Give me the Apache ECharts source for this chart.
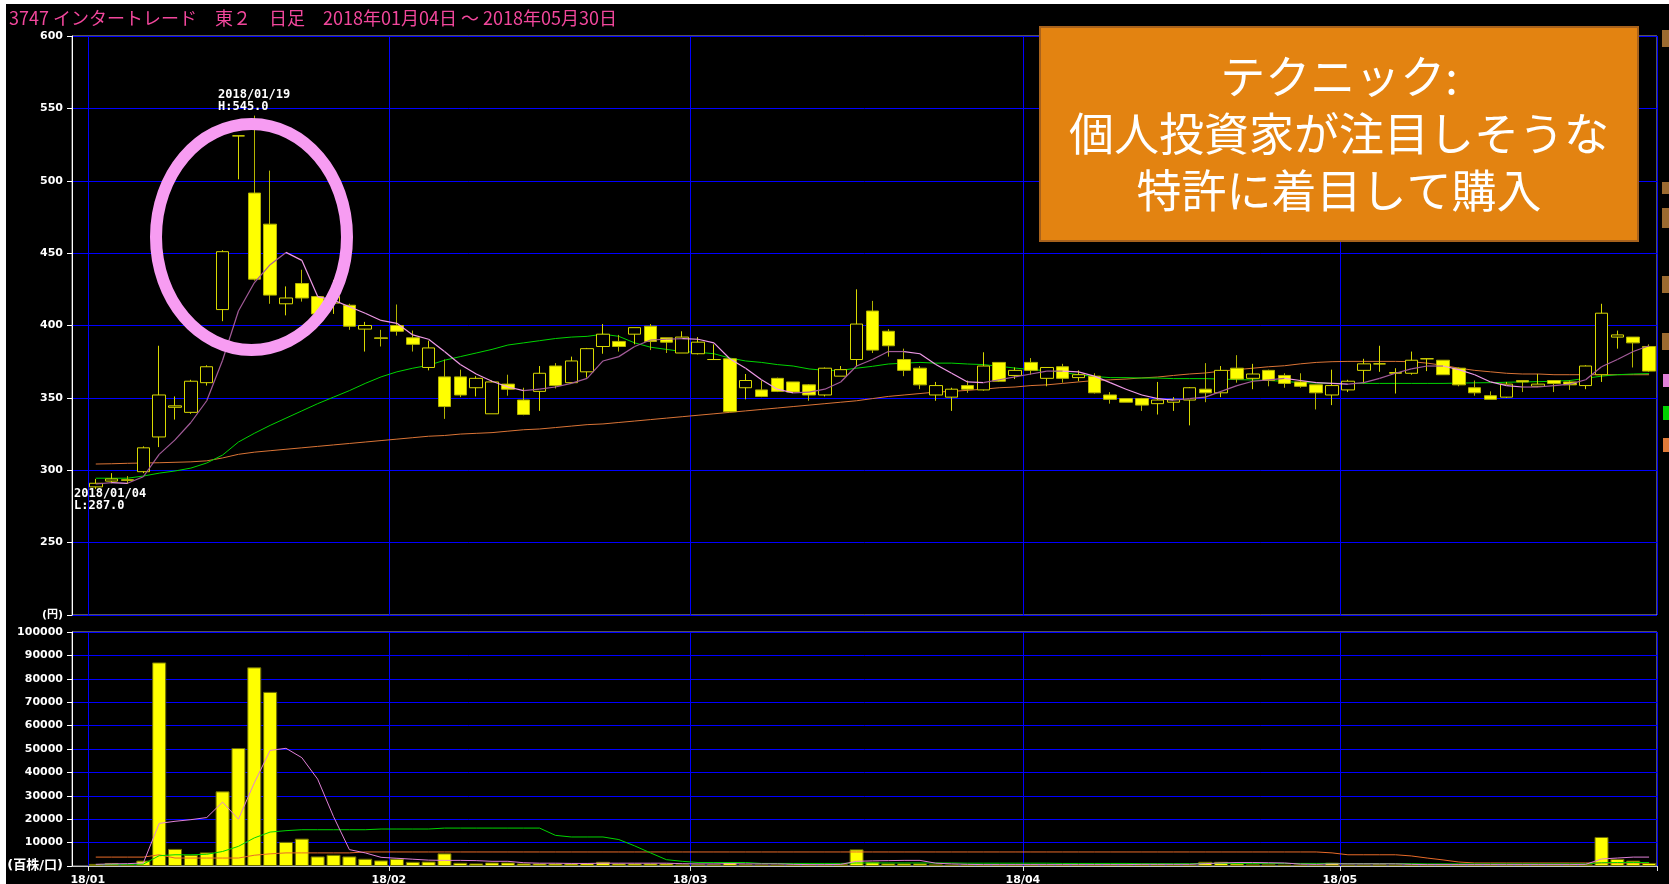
<!DOCTYPE html>
<html><head><meta charset="utf-8">
<script src="https://cdn.jsdelivr.net/npm/echarts/dist/echarts.min.js"></script>
<style>html,body{margin:0;padding:0;background:#fff;overflow:hidden}#c{width:1669px;height:884px}</style>
</head><body><div id="c"></div>
<script>
// ---- data ----
const dates = [
'2018/01/04','2018/01/05','2018/01/09','2018/01/10','2018/01/11','2018/01/12','2018/01/15','2018/01/16','2018/01/17','2018/01/18',
'2018/01/19','2018/01/22','2018/01/23','2018/01/24','2018/01/25','2018/01/26','2018/01/29','2018/01/30','2018/01/31',
'2018/02/01','2018/02/02','2018/02/05','2018/02/06','2018/02/07','2018/02/08','2018/02/09','2018/02/13','2018/02/14','2018/02/15',
'2018/02/16','2018/02/19','2018/02/20','2018/02/21','2018/02/22','2018/02/23','2018/02/26','2018/02/27','2018/02/28',
'2018/03/01','2018/03/02','2018/03/05','2018/03/06','2018/03/07','2018/03/08','2018/03/09','2018/03/12','2018/03/13','2018/03/14',
'2018/03/15','2018/03/16','2018/03/19','2018/03/20','2018/03/22','2018/03/23','2018/03/26','2018/03/27','2018/03/28','2018/03/29','2018/03/30',
'2018/04/02','2018/04/03','2018/04/04','2018/04/05','2018/04/06','2018/04/09','2018/04/10','2018/04/11','2018/04/12','2018/04/13',
'2018/04/16','2018/04/17','2018/04/18','2018/04/19','2018/04/20','2018/04/23','2018/04/24','2018/04/25','2018/04/26','2018/04/27',
'2018/05/01','2018/05/02','2018/05/07','2018/05/08','2018/05/09','2018/05/10','2018/05/11','2018/05/14','2018/05/15','2018/05/16',
'2018/05/17','2018/05/18','2018/05/21','2018/05/22','2018/05/23','2018/05/24','2018/05/25','2018/05/28','2018/05/29','2018/05/30'];

const opens = [
288.5,292.5,293.5,299,323,343.5,340,360.5,411,531,
491.5,470,415,429,420,415.5,414,397.5,391.5,400,
391.5,371,364.5,364.5,357,339,359.5,348.5,354.5,372,
360.5,368,385.5,389,394,399.5,391.5,381,380.5,376.5,
377,357,355.5,363.5,361,359,352,365,376.5,410,
396,376.5,370.5,352,350.5,358.5,355.5,374.5,365.5,374.5,
363.5,371.5,364,365,352,349.5,349.5,346,347,348.5,
356,353.5,370.5,363.5,369,365.5,361,359,352,355.5,
369,373.5,367,367,377,376,370.5,357,351.5,350.5,
362,358,362,361,358.5,366,392,392,385.5];
const closes = [
291,294,293,315.5,352,344.5,361.5,371.5,451,531,
432,421,419,419,408,420,399.5,400,391,396,
387,384.5,344,352,363.5,361,356,338.5,367,358.5,
375.5,384,394,385.5,398.5,389,388.5,392,388.5,376.5,
340.5,362,351,354.5,354,352,370.5,369.5,401,383,
386,369,359,358.5,356,356,372,361.5,369,369,
371,363.5,366,353.5,349,347,345,348.5,349,357,
353.5,369,363,366.5,362,360,358,353.5,358.5,361.5,
373.5,373.5,367.5,376,377,366,359,353.5,349,359.5,
361,359.5,360,359,372,408.5,393.5,388,368.5];
const lows = [
287,291,290.5,298,316,335,339,358.5,403,501,
431,415,407,416.5,408,408,397,382,385.5,393,
382,369,335.5,350.5,351,339,351.5,338,341,356.5,
360,364,380.5,382,387,383,381,381,380,376.5,
340.5,349,350.5,354,353.5,348,351,365,372,381,
378.5,365,356,348,341,353.5,355,361,363,366,
358,360.5,361.5,353,346,347,341,338.5,341,331,
347,350.5,360.5,356,358,357,357,342,345,354,
360,368,353,366,368.5,366,358,351.5,349,350,
354,357.5,354,355.5,356,361,384,371,368];
const highs = [
294,298,296,316.5,386,351,362.5,372.5,452,531,
545,507,427,438.5,420,431.5,415,402.5,397,414.5,
396.5,389.5,376.5,369.5,365,362,366,357,372,374,
378.5,384.5,401,393.5,398.5,401,391.5,396,392,387,
377,366.5,362,364,361,359.5,371,372,425,417,
397.5,384,372,361,357,362,381.5,374.5,371,377.5,
371,373.5,369,367,354,349.5,350,361,350.5,357.5,
374,372,379.5,373.5,369.5,367,367,359,369.5,362.5,
377,386,370.5,382,377,376,371,362,354.5,361,
362,366.5,362,362,372.5,415,396.5,392,387];

const ma5 = [
290.5,291.5,291,295.5,311,321,333,348,376,410,
429.5,442,450.5,445,420,417.5,413,408.5,403.5,401.5,
393.5,390.5,382,373,366.5,361.5,357.5,355,356,357.5,
360,363.5,375.5,378.5,385.5,390,390.5,391,390.5,388,
377,370.5,362.5,356,353.5,354,356,361,372,376.5,
382,382,380.5,373,367,361,360.5,362.5,364.5,366.5,
368.5,368.5,368,365,360.5,356,352,349.5,348.5,349.5,
350.5,354.5,358.5,361.5,362.5,363.5,362,360.5,360,359.5,
360.5,363.5,367,370,372,372,369.5,366,361,358.5,
357.5,357.5,358.5,359.5,362.5,371.5,376.5,382,386];
const ma25 = [
294.5,294.5,294.5,296,298,299.5,301.5,305,310.5,319.5,
325.5,331,336,341,346,350.5,355,360,364.5,368,
370.5,372.5,376,378.5,381,383.5,386.5,388,389.5,391,
392,392.5,394,392.5,388,385,383.5,382,381.5,380.5,
377.5,375.5,374.5,373,372,370,369,369,370.5,371.8,
373.4,374,374.5,374,374,373.4,373,371.8,370.6,369.5,
368.8,367.6,366,364.8,364,364,363.7,363.7,363.3,363.3,
363.3,363,362.6,362.4,362,361.4,360.5,360.3,360,360,
360,360,360,360,360,360,360.2,360.4,360.5,360.8,
361,361.2,361.5,362,363.5,365,366,366.5,366.8];
const ma75 = [
304.3,304.5,304.8,305,305.2,305.5,305.8,306.5,308.5,311,
312.5,313.5,314.5,315.5,316.5,317.5,318.5,319.5,320.5,321.5,
322.5,323.5,324,325,325.5,326,327,328,328.5,329.5,
330.5,331.5,332,333,334,335,336,337,338,339,
340,341,342,343,344,345,346,347,348,349.5,
351,352,353,354,354.5,355.2,356,357,357.5,358.5,
359,360,361,362,362.5,363,363.8,364.4,365.5,366.5,
367.2,368.5,369.5,370.5,371.5,372.2,373.5,374.5,375,375.2,
375.2,375.2,375.2,375,374,372.5,370.5,369,368,367,
366.5,366.5,366,366,366,366,366,366,366];

const volumes = [
900,1300,600,2300,87000,7300,4800,5800,31900,50400,
84900,74400,10300,11700,4100,4800,4100,3100,2400,3100,
1800,1900,5400,1400,1100,1500,1500,1100,1100,1100,
1100,1200,1800,1100,1100,1100,1100,700,700,700,
1700,700,600,600,600,600,600,900,7100,1800,
1100,1100,1100,700,600,600,600,600,600,600,
600,600,600,600,600,600,900,900,600,600,
1800,1800,1100,700,700,600,600,600,1400,600,
600,700,600,600,600,600,600,600,600,600,
600,600,600,600,800,12400,3000,2300,1300];
const volMa5 = [
700,900,1000,1300,18200,19100,19800,20700,27300,20000,
35500,49400,50300,46300,37100,21100,7000,5600,3700,3300,
2900,2500,2400,2400,2300,2000,2000,1400,1200,1200,
1100,1100,1200,1200,1200,1200,1200,1000,900,900,
1000,900,900,900,700,600,600,700,2000,2200,
2300,2400,2400,1200,900,700,600,600,600,600,
600,600,600,600,600,600,700,700,700,700,
1000,1300,1500,1500,1400,1300,800,700,900,900,
900,900,900,700,600,600,600,600,600,600,
600,600,600,600,700,3000,3400,3800,3800];
const volMa25 = [
600,700,700,800,4400,4800,4800,5000,6200,8400,
12000,14500,15100,15500,15500,15500,15500,15500,15800,15800,
15800,15800,16200,16200,16200,16200,16200,16200,16200,13100,
12400,12400,12400,11300,8600,5600,2700,2000,1500,1500,
1500,1500,1100,1100,1100,1100,1100,1100,1300,1300,
1300,1300,1300,1300,1300,1200,1200,1200,1200,1200,
1200,1100,1100,1100,1100,1100,1000,1000,1000,1000,
1100,1100,1100,1100,1100,1100,1100,1100,1100,1000,
1000,1000,1000,1000,900,900,900,900,900,900,
900,900,900,900,900,1400,1500,1500,1500];
const volMa75 = [
3800,3800,3800,3800,4800,3400,3400,3400,3400,3400,
4600,5200,5600,5600,5600,5600,5600,6000,6000,6000,
6000,6000,6000,6000,6000,6000,6000,6000,6000,6000,
6000,6000,6000,6000,6000,6000,6000,6000,6000,6000,
6000,6000,6000,6000,6000,6000,6000,6000,6000,6000,
6000,6000,6000,6000,6000,6000,6000,6000,6000,6000,
6000,6000,6000,6000,6000,6000,6000,6000,6000,6000,
6000,6000,6000,6000,6000,6000,6000,6000,5600,4800,
4800,4800,4800,4300,3400,2600,1700,1300,1300,1300,
1300,1300,1300,1300,1300,1300,1300,1300,1300];

const priceMin = 200, priceMax = 600, priceStep = 50;
const volMin = 0, volMax = 100000, volStep = 10000;
const priceUnit = '(円)';
const volUnit = '(百株/口)';
const titleText = '3747 インタートレード　東２　日足　2018年01月04日 ～ 2018年05月30日';
const noteText = 'テクニック:\n個人投資家が注目しそうな\n特許に着目して購入';
const highNote = '2018/01/19\nH:545.0';
const lowNote = '2018/01/04\nL:287.0';

// ---- build options ----
const cats = [''].concat(dates);           // one empty slot before the first trading day
const pad = a => ['-'].concat(a);
const candle = ['-'].concat(dates.map((d, i) => [opens[i], closes[i], lows[i], highs[i]]));
const isMonthStart = (idx) => {
  if (idx < 1) return false;
  if (idx === 1) return true;
  return cats[idx].slice(5, 7) !== cats[idx - 1].slice(5, 7);
};
// segments of the short moving average (coloured by direction, like the original)
const ma5Segs = ma5.slice(1).map((v, i) => [i + 1, ma5[i], i + 2, v]);

const NUMF = "'DejaVu Sans', 'Noto Sans CJK JP', sans-serif";
const BLUE = '#0000FF';

const chart = echarts.init(document.getElementById('c'), null, {renderer: 'canvas'});
const lineS = (name, data, color, xi, yi, w) => ({
  name, type: 'line', data: pad(data), xAxisIndex: xi, yAxisIndex: yi,
  symbol: 'none', showSymbol: false, silent: true, animation: false,
  lineStyle: {color, width: w || 1}, itemStyle: {color}, z: 3
});
const splitV = {show: true, interval: (i) => isMonthStart(i), lineStyle: {color: BLUE, width: 1}};

chart.setOption({
  animation: false,
  backgroundColor: '#000',
  title: {
    text: titleText, left: 9, top: 9, padding: 0,
    textStyle: {color: '#F2479C', fontSize: 18, fontWeight: 'normal', fontFamily: "'Noto Sans CJK JP', sans-serif"}
  },
  grid: [
    {left: 72, right: 12, top: 36, height: 579, show: true, borderColor: '#A8A8A8', borderWidth: 1, backgroundColor: 'transparent', containLabel: false, outerBoundsMode: 'none'},
    {left: 72, right: 12, top: 632, height: 234, show: true, borderColor: '#A8A8A8', borderWidth: 1, backgroundColor: 'transparent', containLabel: false, outerBoundsMode: 'none'}
  ],
  xAxis: [
    {type: 'category', gridIndex: 0, data: cats, boundaryGap: true,
     axisLine: {show: false}, axisTick: {show: false}, axisLabel: {show: false}, splitLine: splitV},
    {type: 'category', gridIndex: 1, data: cats, boundaryGap: true,
     axisLine: {show: true, lineStyle: {color: '#C8C8C8', width: 1}},
     axisTick: {show: true, interval: (i) => isMonthStart(i), length: 5, lineStyle: {color: '#E0E0E0'}},
     axisLabel: {show: true, interval: (i) => isMonthStart(i), formatter: (v) => v.slice(2, 7),
       color: '#fff', fontFamily: NUMF, fontWeight: 'bold', fontSize: 11, margin: 9, padding: [0, 16, 0, 0]},
     splitLine: splitV}
  ],
  yAxis: [
    {type: 'value', gridIndex: 0, min: priceMin, max: priceMax, interval: priceStep, position: 'left',
     axisLine: {show: true, lineStyle: {color: '#fff', width: 1}},
     axisTick: {show: true, length: 5, lineStyle: {color: '#fff'}},
     axisLabel: {color: '#fff', fontFamily: NUMF, fontWeight: 'bold', fontSize: 11, margin: 9,
       formatter: (v) => v === priceMin ? priceUnit : String(v)},
     splitLine: {show: true, lineStyle: {color: BLUE, width: 1}}},
    {type: 'value', gridIndex: 1, min: volMin, max: volMax, interval: volStep, position: 'left',
     axisLine: {show: true, lineStyle: {color: '#fff', width: 1}},
     axisTick: {show: true, length: 5, lineStyle: {color: '#fff'}},
     axisLabel: {color: '#fff', fontFamily: NUMF, fontWeight: 'bold', fontSize: 11, margin: 9,
       rich: {u: {fontSize: 13, fontWeight: 'bold', color: '#fff', fontFamily: NUMF}},
       formatter: (v) => v === volMin ? '{u|' + volUnit + '}' : String(v)},
     splitLine: {show: true, lineStyle: {color: BLUE, width: 1}}}
  ],
  series: [
    lineS('MA75', ma75, '#DA7436', 0, 0),
    lineS('MA25', ma25, '#00D400', 0, 0),
    {name: 'price', type: 'candlestick', xAxisIndex: 0, yAxisIndex: 0, data: candle, barWidth: 13,
     silent: true, animation: false, z: 4,
     itemStyle: {color: '#000', color0: '#FFFF00', borderColor: '#D8D800', borderColor0: '#B4B400', borderColorDoji: '#D8D800', borderWidth: 1}},
    {name: 'MA5', type: 'custom', xAxisIndex: 0, yAxisIndex: 0, data: ma5Segs, silent: true, animation: false, z: 5,
     encode: {x: [0, 2], y: [1, 3]},
     renderItem: (params, api) => {
       const p0 = api.coord([api.value(0), api.value(1)]);
       const p1 = api.coord([api.value(2), api.value(3)]);
       const up = api.value(3) >= api.value(1);
       return {type: 'line', shape: {x1: p0[0], y1: p0[1], x2: p1[0], y2: p1[1]},
               style: {stroke: up ? '#A45C9A' : '#F09AE8', lineWidth: 1.2}};
     }},
    {name: 'vol', type: 'bar', xAxisIndex: 1, yAxisIndex: 1, data: pad(volumes), barWidth: 14,
     silent: true, animation: false, z: 2,
     itemStyle: {color: '#FFFF00', borderColor: '#6E6E00', borderWidth: 1}},
    lineS('VMA75', volMa75, '#E86A28', 1, 1),
    lineS('VMA25', volMa25, '#00D400', 1, 1),
    lineS('VMA5', volMa5, '#E080D8', 1, 1)
  ],
  graphic: [
    {type: 'rect', left: 0, top: 0, shape: {width: 6, height: 884}, style: {fill: '#fff'}, silent: true, z: 50},
    {type: 'rect', left: 0, top: 0, shape: {width: 1669, height: 4}, style: {fill: '#fff'}, silent: true, z: 50},
    {type: 'ellipse', shape: {cx: 251.5, cy: 237, rx: 95.5, ry: 113}, style: {fill: 'none', stroke: '#F79CF2', lineWidth: 12}, silent: true, z: 60},
    {type: 'text', x: 218, y: 89, style: {text: highNote, fill: '#fff', font: "bold 12px 'DejaVu Sans Mono'", lineHeight: 12}, silent: true, z: 60},
    {type: 'text', x: 74, y: 488, style: {text: lowNote, fill: '#fff', font: "bold 12px 'DejaVu Sans Mono'", lineHeight: 12}, silent: true, z: 60},
    {type: 'rect', shape: {x: 1040, y: 27, width: 598, height: 214}, style: {fill: '#E38311', stroke: '#A8621C', lineWidth: 2}, silent: true, z: 70},
    {type: 'text', x: 1339, y: 134, style: {text: noteText, fill: '#fff', font: "45px 'Noto Sans CJK JP'", align: 'center', verticalAlign: 'middle', textAlign: 'center', textVerticalAlign: 'middle', lineHeight: 57}, silent: true, z: 71},
    {type: 'rect', shape: {x: 1662, y: 30, width: 7, height: 17}, style: {fill: '#9C6A30'}, silent: true, z: 50},
    {type: 'rect', shape: {x: 1662, y: 182, width: 7, height: 12}, style: {fill: '#9C6A30'}, silent: true, z: 50},
    {type: 'rect', shape: {x: 1662, y: 208, width: 7, height: 20}, style: {fill: '#9C6A30'}, silent: true, z: 50},
    {type: 'rect', shape: {x: 1662, y: 276, width: 7, height: 17}, style: {fill: '#9C6A30'}, silent: true, z: 50},
    {type: 'rect', shape: {x: 1662, y: 333, width: 7, height: 17}, style: {fill: '#9C6A30'}, silent: true, z: 50},
    {type: 'rect', shape: {x: 1663, y: 374, width: 6, height: 13}, style: {fill: '#E080D8'}, silent: true, z: 50},
    {type: 'rect', shape: {x: 1663, y: 406, width: 6, height: 14}, style: {fill: '#00D400'}, silent: true, z: 50},
    {type: 'rect', shape: {x: 1663, y: 438, width: 6, height: 14}, style: {fill: '#E07A3A'}, silent: true, z: 50}
  ]
});
</script>
</body></html>
